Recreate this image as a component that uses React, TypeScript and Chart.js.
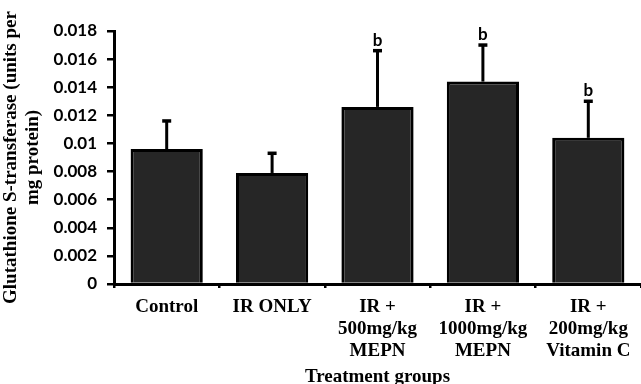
import React, { useEffect, useRef } from 'react';
import Chart from 'chart.js/auto';

const categories: string[][] = [
  ['Control'],
  ['IR ONLY'],
  ['IR +', '500mg/kg', 'MEPN'],
  ['IR +', '1000mg/kg', 'MEPN'],
  ['IR +', '200mg/kg', 'Vitamin C'],
];
const means = [0.0096, 0.0079, 0.0126, 0.0144, 0.0104];
const errors = [0.002, 0.0014, 0.004, 0.0026, 0.0026];
const significance = ['', '', 'b', 'b', 'b'];
const yTitle = ['Glutathione S-transferase (units per', 'mg protein)'];
const xTitle = 'Treatment groups';
const yMin = 0;
const yMax = 0.018;
const yStep = 0.002;

const errorBarPlugin = {
  id: 'errorBars',
  afterDatasetsDraw(chart: any) {
    const { ctx } = chart;
    const yScale = chart.scales.y;
    const meta = chart.getDatasetMeta(0);
    ctx.save();
    ctx.strokeStyle = '#000';
    ctx.fillStyle = '#000';
    ctx.lineWidth = 3;
    meta.data.forEach((bar: any, i: number) => {
      const x = bar.x;
      const yBar = bar.y;
      const yTop = yScale.getPixelForValue(means[i] + errors[i]);
      ctx.beginPath();
      ctx.moveTo(x, yBar);
      ctx.lineTo(x, yTop);
      ctx.stroke();
      ctx.lineWidth = 3.5;
      ctx.beginPath();
      ctx.moveTo(x - 4.5, yTop);
      ctx.lineTo(x + 4.5, yTop);
      ctx.stroke();
      ctx.lineWidth = 3;
      if (significance[i]) {
        ctx.font = 'bold 17px Lato';
        ctx.textAlign = 'center';
        ctx.textBaseline = 'alphabetic';
        ctx.fillText(significance[i], x, yTop - 5);
      }
    });
    ctx.restore();
  },
};

export default function App() {
  const canvasRef = useRef<HTMLCanvasElement | null>(null);

  useEffect(() => {
    document.body.style.margin = '0';
    const canvas = canvasRef.current;
    if (!canvas) return;
    const chart = new Chart(canvas, {
      type: 'bar',
      data: {
        labels: categories,
        datasets: [
          {
            data: means,
            backgroundColor: '#262626',
            borderColor: '#000',
            borderWidth: 3,
            borderSkipped: 'start',
            barPercentage: 0.685,
            categoryPercentage: 1,
          },
        ],
      },
      options: {
        animation: false,
        responsive: false,
        devicePixelRatio: 1,
        layout: { padding: { left: 0, right: -6, top: 31, bottom: 0 } },
        plugins: {
          legend: { display: false },
          tooltip: { enabled: false },
        },
        scales: {
          x: {
            offset: true,
            grid: {
              display: true,
              drawOnChartArea: false,
              offset: true,
              tickLength: 4,
              lineWidth: 2.5,
              color: '#000',
            },
            border: { display: true, color: '#000', width: 3 },
            ticks: {
              color: '#000',
              padding: 8,
              maxRotation: 0,
              autoSkip: false,
              font: { family: 'Liberation Serif', weight: 'bold', size: 19, lineHeight: 1.15 },
            },
            title: {
              display: true,
              text: xTitle,
              color: '#000',
              padding: { top: 0, bottom: 0 },
              font: { family: 'Liberation Serif', weight: 'bold', size: 19, lineHeight: 0.77 },
            },
            afterFit(scale: any) {
              scale.height = 100;
            },
          },
          y: {
            min: yMin,
            max: yMax,
            ticks: {
              stepSize: yStep,
              color: '#000',
              padding: 10,
              font: { family: 'Lato', weight: 'bold', size: 17 },
              callback: (v: any) => String(Number(Number(v).toFixed(3))),
            },
            grid: {
              display: true,
              drawOnChartArea: false,
              tickLength: 7,
              lineWidth: 2.5,
              color: '#000',
            },
            border: { display: true, color: '#000', width: 3 },
            title: {
              display: true,
              text: yTitle,
              color: '#000',
              padding: { top: 0, bottom: 0 },
              font: { family: 'Liberation Serif', weight: 'bold', size: 19, lineHeight: 1.15 },
            },
            afterFit(scale: any) {
              scale.width = 114;
            },
          },
        },
      },
      plugins: [errorBarPlugin],
    } as any);
    return () => chart.destroy();
  }, []);

  return (
    <div style={{ width: 641, height: 384, position: 'relative' }}>
      <canvas ref={canvasRef} width={641} height={384} style={{ width: 641, height: 384, display: 'block' }} />
    </div>
  );
}
